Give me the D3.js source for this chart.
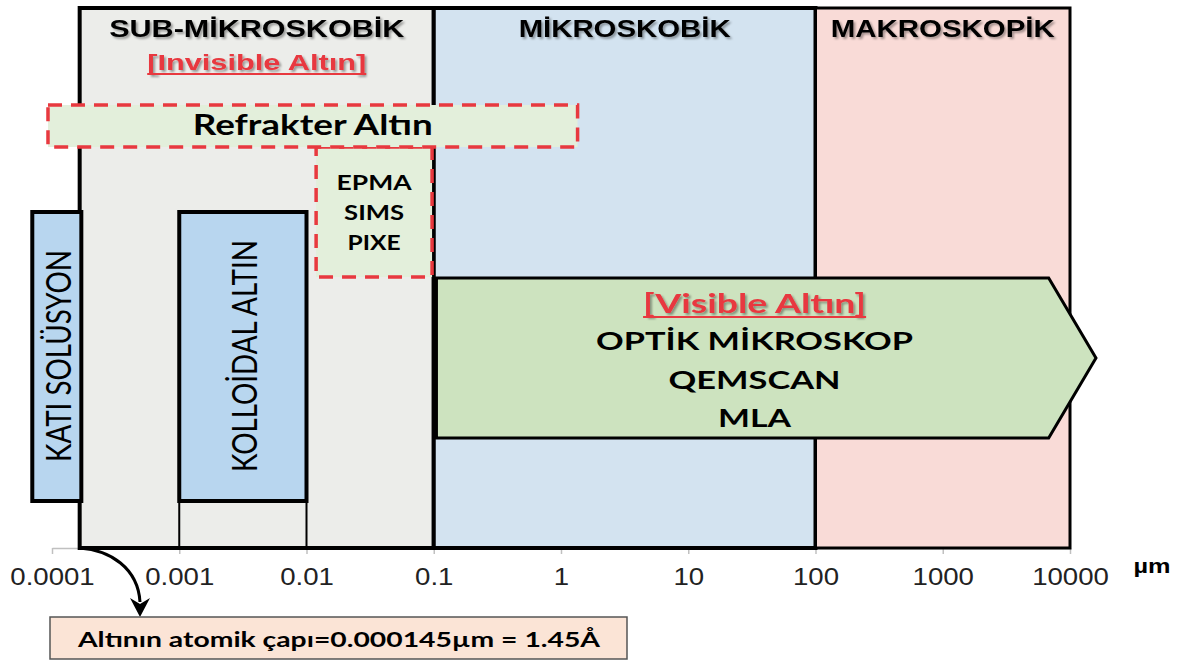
<!DOCTYPE html>
<html>
<head>
<meta charset="utf-8">
<script src="https://cdn.jsdelivr.net/npm/d3@7"></script>
<style>
body { margin: 0; background: #fff; }
</style>
</head>
<body>
<svg id="chart" width="1183" height="660"></svg>
<script>
// axis
var tickValues = [0.0001, 0.001, 0.01, 0.1, 1, 10, 100, 1000, 10000];
var tickLabels = ["0.0001", "0.001", "0.01", "0.1", "1", "10", "100", "1000", "10000"];

// size classes (µm)
var zoneNames = ["SUB-MİKROSKOBİK", "MİKROSKOBİK", "MAKROSKOPİK"];
var zoneStart = [0.000165, 0.1, 100];
var zoneEnd = [0.1, 100, 10000];

// gold forms
var formNames = ["KATI SOLÜSYON", "KOLLOİDAL ALTIN"];
var formStart = [0.00007, 0.001];
var formEnd = [0.00017, 0.01];

var refrakterRange = [0.000093, 1.35];
var beamTools = ["EPMA", "SIMS", "PIXE"];
var beamRange = [0.0119, 0.097];
var opticTools = ["OPTİK MİKROSKOP", "QEMSCAN", "MLA"];
var visibleRange = [0.105, 6800, 16000]; // start, body end, tip
var goldAtom = 0.000145;

var zoneColors = ["#ecedea", "#d3e3f0", "#f9dbd7"];
var red = "#e8393f";
var arial = "'Liberation Sans', Arial, sans-serif";
var calib = "Lato, 'Open Sans', sans-serif";

var svg = d3.select("#chart");
var x = d3.scaleLog().domain([1e-4, 1e4]).range([52, 1070]);

var defs = svg.append("defs");
defs.append("filter").attr("id", "shadow")
    .attr("x", "-10%").attr("y", "-30%").attr("width", "120%").attr("height", "160%")
  .append("feDropShadow")
    .attr("dx", 2).attr("dy", 2).attr("stdDeviation", 1.3)
    .attr("flood-color", "#000").attr("flood-opacity", 0.35);

// text helper: centred, width forced to what the picture shows
function label(s, cx, y, size, len, o) {
    o = o || {};
    var t = svg.append("text")
        .attr("x", cx).attr("y", y)
        .attr("text-anchor", "middle")
        .attr("font-family", o.family || calib)
        .attr("font-weight", o.weight || "bold")
        .attr("font-size", size)
        .attr("fill", o.fill || "#000")
        .attr("textLength", len)
        .attr("lengthAdjust", "spacingAndGlyphs")
        .text(s);
    if (o.rotate) t.attr("transform", "rotate(-90," + cx + "," + y + ")");
    if (o.shadow) t.attr("filter", "url(#shadow)");
    if (o.underline) {
        svg.append("line")
            .attr("x1", cx - len / 2).attr("x2", cx + len / 2)
            .attr("y1", y + 4).attr("y2", y + 4)
            .attr("stroke", o.fill).attr("stroke-width", 2);
    }
    return t;
}

// axis first, boxes sit on it
svg.append("g")
    .attr("transform", "translate(0,548)")
    .call(d3.axisBottom(x)
        .tickValues(tickValues)
        .tickFormat(function(d, i) { return tickLabels[i]; })
        .tickSize(6).tickSizeOuter(0))
    .call(function(g) {
        g.select(".domain").attr("stroke", "#c0c0c0").attr("stroke-width", 1.5);
        g.selectAll(".tick line").attr("stroke", "#c0c0c0").attr("stroke-width", 1.5);
        g.selectAll(".tick text")
            .attr("y", 37).attr("dy", null)
            .attr("font-family", arial)
            .attr("font-size", 23)
            .attr("fill", "#222")
            .attr("transform", "scale(1.2,1)");
    });

svg.append("text")
    .attr("x", 1152).attr("y", 573)
    .attr("text-anchor", "middle")
    .attr("font-family", arial).attr("font-weight", "bold")
    .attr("font-size", 20)
    .attr("textLength", 37).attr("lengthAdjust", "spacingAndGlyphs")
    .text("µm");

// size zones
svg.selectAll("rect.zone")
    .data(zoneNames)
    .enter().append("rect")
    .attr("class", "zone")
    .attr("x", function(d, i) { return x(zoneStart[i]); })
    .attr("y", 8)
    .attr("width", function(d, i) { return x(zoneEnd[i]) - x(zoneStart[i]); })
    .attr("height", 540)
    .attr("fill", function(d, i) { return zoneColors[i]; })
    .attr("stroke", "#000")
    .attr("stroke-width", function(d, i) { return i == 2 ? 3 : 4; });

var titleW = [295, 212, 224];
zoneNames.forEach(function(n, i) {
    label(n, (x(zoneStart[i]) + x(zoneEnd[i])) / 2, 37, 23, titleW[i], {family: arial, shadow: true});
});
label("[Invisible Altın]", (x(zoneStart[0]) + x(zoneEnd[0])) / 2, 70, 22, 219,
    {family: arial, fill: red, shadow: true, underline: true});

// colloid connector lines down to the axis
svg.selectAll("line.conn")
    .data([formStart[1], formEnd[1]])
    .enter().append("line")
    .attr("class", "conn")
    .attr("x1", function(d) { return x(d); })
    .attr("x2", function(d) { return x(d); })
    .attr("y1", 500).attr("y2", 548)
    .attr("stroke", "#000").attr("stroke-width", 2);

// gold form boxes
svg.selectAll("rect.form")
    .data(formNames)
    .enter().append("rect")
    .attr("class", "form")
    .attr("x", function(d, i) { return x(formStart[i]); })
    .attr("y", 212)
    .attr("width", function(d, i) { return x(formEnd[i]) - x(formStart[i]); })
    .attr("height", 289)
    .attr("fill", "#b8d6ef")
    .attr("stroke", "#000")
    .attr("stroke-width", 4);

var formLen = [212, 232];
var formBase = [14, 14];
formNames.forEach(function(n, i) {
    var cx = (x(formStart[i]) + x(formEnd[i])) / 2 + formBase[i];
    label(n, cx, 356, 34, formLen[i], {weight: "normal", rotate: true});
});

// dashed boxes
svg.append("rect")
    .attr("x", x(beamRange[0])).attr("y", 147)
    .attr("width", x(beamRange[1]) - x(beamRange[0])).attr("height", 130)
    .attr("fill", "#e3efdb")
    .attr("stroke", red).attr("stroke-width", 3.5)
    .attr("stroke-dasharray", "14 9");

svg.append("rect")
    .attr("x", x(refrakterRange[0])).attr("y", 105)
    .attr("width", x(refrakterRange[1]) - x(refrakterRange[0])).attr("height", 42)
    .attr("fill", "#e3efdb")
    .attr("stroke", red).attr("stroke-width", 3.5)
    .attr("stroke-dasharray", "14 9");

label("Refrakter Altın", (x(refrakterRange[0]) + x(refrakterRange[1])) / 2, 135, 28, 240);

var beamW = [75, 60, 53];
beamTools.forEach(function(n, i) {
    label(n, (x(beamRange[0]) + x(beamRange[1])) / 2, 190 + i * 30, 21, beamW[i]);
});

// visible gold arrow
var x0 = x(visibleRange[0]), xb = x(visibleRange[1]), xt = x(visibleRange[2]);
svg.append("polygon")
    .attr("points", [[x0, 278], [xb, 278], [xt, 358], [xb, 438], [x0, 438]].join(" "))
    .attr("fill", "#cde3bf")
    .attr("stroke", "#000")
    .attr("stroke-width", 3)
    .attr("stroke-linejoin", "miter");

var vc = (x0 + xb) / 2 + 12;
label("[Visible Altın]", vc, 313, 26, 223, {fill: red, shadow: true, underline: true});
var opticW = [317, 172, 73];
opticTools.forEach(function(n, i) {
    label(n, vc, 350 + i * 38.5, 25, opticW[i]);
});

// atom note
svg.append("path")
    .attr("d", "M" + x(zoneStart[0]) + ",548 C110,550 138,568 140,602")
    .attr("fill", "none")
    .attr("stroke", "#000")
    .attr("stroke-width", 3);
svg.append("polygon")
    .attr("points", "140,617 130,598 140,604 150,598")
    .attr("fill", "#000");

svg.append("rect")
    .attr("x", 50).attr("y", 617)
    .attr("width", 577).attr("height", 42)
    .attr("fill", "#fbe4d6")
    .attr("stroke", "#555").attr("stroke-width", 1.5);
label("Altının atomik çapı=" + (goldAtom.toFixed(6)) + "µm = 1.45Å", 339, 647, 21, 522);
</script>
</body>
</html>
